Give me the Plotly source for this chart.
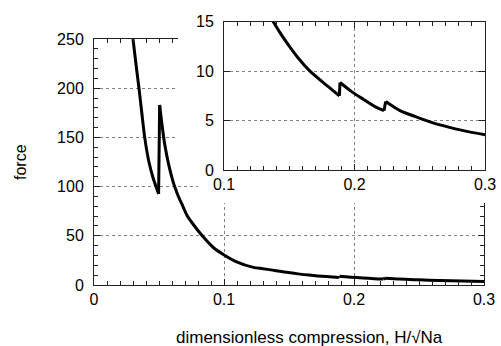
import plotly.graph_objects as go

# Data (dimensionless compression vs force)
compression = [0.0300, 0.0326, 0.0346, 0.0369, 0.0390, 0.0421, 0.0454, 0.0480,
               0.0497, 0.0505, 0.0523, 0.0544, 0.0575, 0.0608, 0.0623, 0.0646,
               0.0687, 0.0718, 0.0764, 0.0833, 0.0918, 0.0995, 0.1097, 0.1226,
               0.1300, 0.1373, 0.1429, 0.1496, 0.1570, 0.1655, 0.1787, 0.1884,
               0.1889, 0.1978, 0.2067, 0.2157, 0.2226, 0.2239, 0.2349, 0.2502,
               0.2655, 0.2834, 0.3005]
force = [250, 221, 200, 173.5, 150, 126, 109, 99,
         92.6, 183, 163, 143, 122, 105, 99, 91,
         79, 70, 61.5, 50, 38.1, 31, 23.5, 17.9,
         16.6, 15.1, 13.9, 12.6, 11.3, 10.05, 8.55, 7.5,
         8.85, 7.93, 7.16, 6.41, 6.0, 6.92, 6.0, 5.23,
         4.56, 3.98, 3.55]

main_xticks = [0, 0.1, 0.2, 0.3]
main_xticklabels = ["0", "0.1", "0.2", "0.3"]
main_yticks = [0, 50, 100, 150, 200, 250]
inset_xticks = [0.1, 0.2, 0.3]
inset_xticklabels = ["0.1", "0.2", "0.3"]
inset_yticks = [0, 5, 10, 15]

W, H = 501, 346
def dx(a, b):
    return [a / W, b / W]
def dy(top, bottom):
    return [(H - bottom) / H, (H - top) / H]

FONT = "Liberation Sans, Arial, sans-serif"
fig = go.Figure()

# split the curve at the jumps: smooth decaying segments + straight jumps
breaks = [i + 1 for i in range(len(force) - 1) if force[i + 1] > force[i]]
starts = [0] + breaks
ends = breaks + [len(force)]

def add_curve(xa, ya):
    for s, e in zip(starts, ends):
        fig.add_trace(go.Scatter(x=compression[s:e], y=force[s:e], mode="lines",
                                 line=dict(color="black", width=3, shape="spline", smoothing=0.8),
                                 xaxis=xa, yaxis=ya, showlegend=False, hoverinfo="skip"))
    for b in breaks:
        fig.add_trace(go.Scatter(x=compression[b - 1:b + 1], y=force[b - 1:b + 1], mode="lines",
                                 line=dict(color="black", width=3),
                                 xaxis=xa, yaxis=ya, showlegend=False, hoverinfo="skip"))

add_curve("x", "y")
# white cover regions (empty subplots) so the inset hides the main plot
fig.add_trace(go.Scatter(x=[], y=[], xaxis="x2", yaxis="y2", showlegend=False))
fig.add_trace(go.Scatter(x=[], y=[], xaxis="x3", yaxis="y3", showlegend=False))
add_curve("x4", "y4")

grid = dict(showgrid=True, gridcolor="#808080", griddash="dot", gridwidth=1)
frame = dict(showline=True, linecolor="#222222", linewidth=1, mirror="allticks",
             zeroline=False, ticks="inside", tickcolor="#222222", automargin=False,
             tickfont=dict(family=FONT, size=16, color="black"))
blank = dict(visible=False, showgrid=False, zeroline=False, range=[0, 1],
             fixedrange=True, automargin=False)

fig.update_layout(
    template="none",
    width=W, height=H, autosize=False,
    margin=dict(l=0, r=0, t=0, b=0, pad=0),
    paper_bgcolor="white", plot_bgcolor="white",
    xaxis=dict(domain=dx(94, 484), range=[0, 0.3], tickvals=main_xticks,
               ticktext=main_xticklabels, ticklen=6, anchor="y",
               minor=dict(dtick=0.01, tick0=0, ticks="inside", ticklen=4, tickcolor="#222222", showgrid=False),
               **grid, **frame),
    yaxis=dict(domain=dy(39, 285), range=[0, 250], tickvals=main_yticks, ticklen=6, anchor="x",
               ticklabelstandoff=6,
               minor=dict(dtick=10, tick0=0, ticks="inside", ticklen=4, tickcolor="#222222", showgrid=False),
               **grid, **frame),
    xaxis2=dict(domain=dx(178, 501), anchor="y2", **blank),
    yaxis2=dict(domain=dy(0, 178), anchor="x2", **blank),
    xaxis3=dict(domain=dx(198, 501), anchor="y3", **blank),
    yaxis3=dict(domain=dy(0, 203), anchor="x3", **blank),
    xaxis4=dict(domain=dx(224, 485), range=[0.1, 0.3], tickvals=inset_xticks,
                ticktext=inset_xticklabels, ticklen=6, anchor="y4",
                minor=dict(dtick=0.01, tick0=0, ticks="inside", ticklen=4, tickcolor="#222222", showgrid=False),
                **grid, **frame),
    yaxis4=dict(domain=dy(21.7, 170), range=[0, 15], tickvals=inset_yticks, ticklen=6, anchor="x4",
                ticklabelstandoff=6,
                **grid, **frame),
    annotations=[
        dict(text="force", x=20 / W, y=(H - 162) / H, xref="paper", yref="paper",
             textangle=-90, showarrow=False, xanchor="center", yanchor="middle",
             font=dict(family=FONT, size=16, color="black")),
        dict(text="dimensionless compression, H/\u221aNa", x=309 / W, y=(H - 337) / H,
             xref="paper", yref="paper", showarrow=False, xanchor="center", yanchor="middle",
             font=dict(family=FONT, size=17, color="black")),
    ],
)

fig.write_html("out.html", config={"displayModeBar": False},
               post_script="document.body.style.margin='0';")
